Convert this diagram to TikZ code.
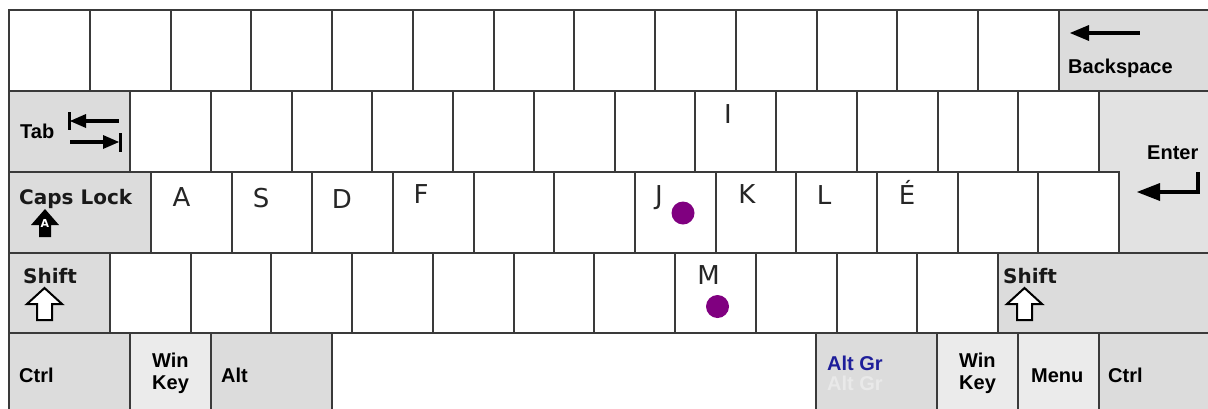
\documentclass[tikz,border=0pt]{standalone}
\usepackage{fontspec}
\newfontfamily\lab{Liberation Sans}
\newfontfamily\dv{DejaVu Sans}
\definecolor{keyedge}{HTML}{3A3A3A}
\definecolor{modgray}{HTML}{DCDCDC}
\definecolor{lightkey}{HTML}{EBEBEB}
\definecolor{entergray}{HTML}{E2E2E2}
\definecolor{dotpurple}{HTML}{800080}
\definecolor{altgrblue}{HTML}{1E1E9A}
\definecolor{ghost}{HTML}{E9E9E9}
\begin{document}
\begin{tikzpicture}[x=1pt,y=-1pt,
  keyline/.style={draw=keyedge,line width=2pt},
  plainkey/.style={keyline,fill=white},
  modkey/.style={keyline,fill=modgray},
  lightkeyst/.style={keyline,fill=lightkey},
  lbl/.style={inner sep=0pt,anchor=base west,font=\lab\bfseries\fontsize{20}{24}\selectfont,text=black},
  dvlbl/.style={inner sep=0pt,anchor=base west,font=\dv\bfseries\fontsize{20}{24}\selectfont,text=black!90},
  letter/.style={inner sep=0pt,anchor=base,font=\dv\fontsize{26}{30}\selectfont,text=black!85},
  glyphline/.style={line width=3.5pt,draw=black},
  headfill/.style={fill=black,draw=none},
  hollow/.style={draw=black,line width=2pt,fill=white,line join=miter},
  homedot/.style={circle,fill=dotpurple,inner sep=0pt,minimum size=23pt}]
\useasboundingbox (0,0) rectangle (1208,408);
\fill[white] (0,0) rectangle (1208,408);
\clip (0,0) rectangle (1208,408);

% Row 1
\foreach \i in {0,...,12} \path[plainkey] ({9+80.77*\i},10) rectangle ({9+80.77*(\i+1)},91);
\path[modkey] (1059,10) rectangle (1216,91);
% Row 2
\path[modkey] (9,91) rectangle (130,172);
\foreach \i in {0,...,11} \path[plainkey] ({130+80.75*\i},91) rectangle ({130+80.75*(\i+1)},172);
% Row 3
\path[modkey] (9,172) rectangle (151,253);
\foreach \i in {0,...,11} \path[plainkey] ({151+80.67*\i},172) rectangle ({151+80.67*(\i+1)},253);
% Enter (L-shape)
\path[keyline,fill=entergray] (1099,91) -- (1216,91) -- (1216,253) -- (1119,253) -- (1119,172) -- (1099,172) -- cycle;
% Row 4
\path[modkey] (9,253) rectangle (110,333);
\foreach \i in {0,...,10} \path[plainkey] ({110+80.73*\i},253) rectangle ({110+80.73*(\i+1)},333);
\path[modkey] (998,253) rectangle (1216,333);
% Row 5
\path[modkey] (9,333) rectangle (130,416);
\path[lightkeyst] (130,333) rectangle (211,416);
\path[modkey] (211,333) rectangle (332,416);
\path[plainkey] (332,333) rectangle (816,416);
\path[modkey] (816,333) rectangle (937,416);
\path[lightkeyst] (937,333) rectangle (1018,416);
\path[lightkeyst] (1018,333) rectangle (1099,416);
\path[modkey] (1099,333) rectangle (1216,416);

% Backspace
\draw[glyphline] (1086,33) -- (1140,33);
\path[headfill] (1070,33) -- (1089,25) -- (1089,41) -- cycle;
\node[lbl] (bksp) at (1068,73) {Backspace};

% Tab
\node[lbl] (tab) at (20,138) {Tab};
\draw[line width=3pt] (69,112) -- (69,130);
\path[headfill] (70,121) -- (86,114) -- (86,128) -- cycle;
\draw[glyphline] (84,121) -- (119,121);
\draw[glyphline] (70,142) -- (106,142);
\path[headfill] (119,142) -- (103,135) -- (103,149) -- cycle;
\draw[line width=3pt] (120,133) -- (120,152);

% Enter
\node[lbl] (enter) at (1147,159) {Enter};
\draw[line width=4pt,line join=miter] (1198,172) -- (1198,191.5) -- (1157,191.5);
\path[headfill] (1137,192) -- (1160,183) -- (1160,201) -- cycle;

% Caps Lock
\node[dvlbl] (caps) at (19,204) {Caps Lock};
\path[headfill] (45,209) -- (59,225) -- (51,225) -- (51,237) -- (39,237) -- (39,225) -- (31,225) -- cycle;
\node[inner sep=0pt,anchor=base,font=\dv\bfseries\fontsize{11}{12}\selectfont,text=white] (capsA) at (45,227) {A};

% Shift keys
\node[dvlbl] (lshift) at (23,283) {Shift};
\path[hollow] (44.5,288) -- (62,304) -- (52,304) -- (52,320) -- (37,320) -- (37,304) -- (27,304) -- cycle;
\node[dvlbl] (rshift) at (1003,283) {Shift};
\path[hollow] (1024.5,288) -- (1042,304) -- (1032,304) -- (1032,320) -- (1017,320) -- (1017,304) -- (1007,304) -- cycle;

% Bottom row labels
\node[lbl] (lctrl) at (19,382) {Ctrl};
\node[lbl] (lwin) at (152,367) {Win};
\node[lbl] (lkey) at (152,389) {Key};
\node[lbl] (lalt) at (221,382) {Alt};
\node[lbl,text=ghost] (altgrghost) at (827,390) {Alt Gr};
\node[lbl,text=altgrblue] (altgr) at (827,370) {Alt Gr};
\node[lbl] (rwin) at (959,367) {Win};
\node[lbl] (rkey) at (959,389) {Key};
\node[lbl] (menu) at (1031,382) {Menu};
\node[lbl] (rctrl) at (1108,382) {Ctrl};

% Letters
\node[letter] (kA) at (181.5,206) {A};
\node[letter] (kS) at (261,207) {S};
\node[letter] (kD) at (342,208) {D};
\node[letter] (kF) at (421,203) {F};
\node[letter] (kJ) at (659,204) {J};
\node[letter] (kK) at (747,203) {K};
\node[letter] (kL) at (824,204) {L};
\node[letter] (kE) at (907,204) {É};
\node[letter] (kI) at (728,123) {I};
\node[letter] (kM) at (708.5,284) {M};

% Home-row dots
\node[homedot] (dotJ) at (683,213) {};
\node[homedot] (dotM) at (717.5,306.5) {};
\end{tikzpicture}
\end{document}
